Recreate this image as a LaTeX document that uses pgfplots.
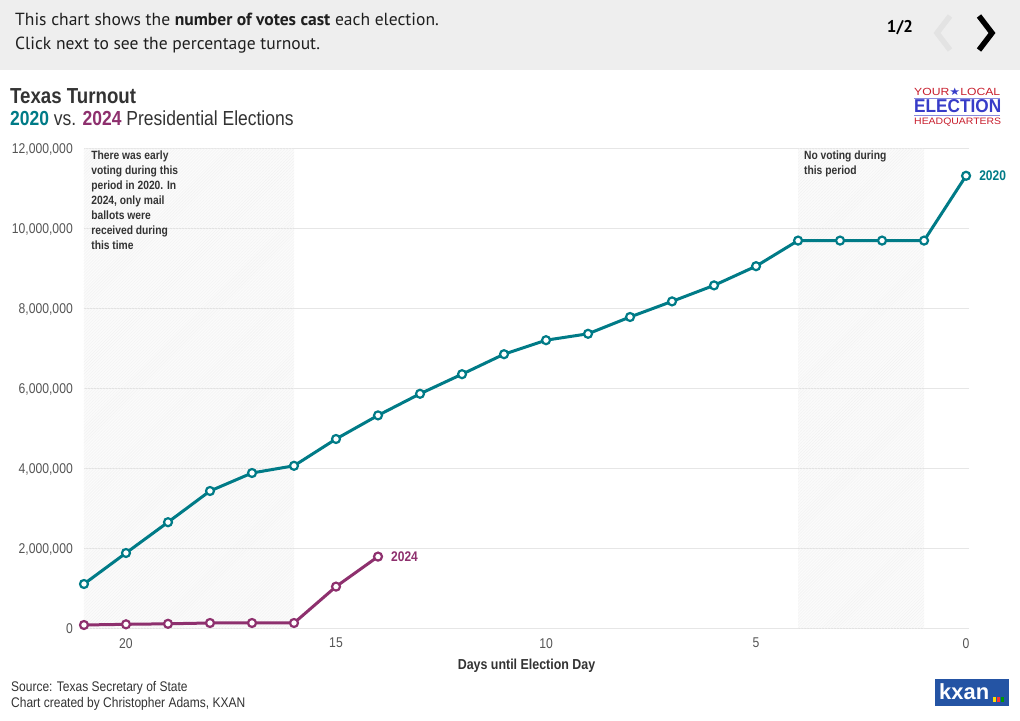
\documentclass[border=0pt]{standalone}
\usepackage{fontspec}
\setmainfont{Liberation Sans}[FakeStretch=0.86]
\newfontfamily\bannerfont{PT Sans}
\newfontfamily\dejavu{DejaVu Sans}
\newfontfamily\logofont{Liberation Sans}
\usepackage{graphicx}
\usepackage{pgfplots}
\pgfplotsset{compat=1.18}
\usetikzlibrary{patterns}
\definecolor{teal20}{RGB}{0,123,135}
\definecolor{plum24}{RGB}{142,48,110}
\definecolor{txt}{RGB}{51,51,51}
\definecolor{ticktxt}{RGB}{85,85,85}
\definecolor{gridc}{RGB}{230,230,230}
\definecolor{bannerbg}{RGB}{238,238,238}
\definecolor{logored}{RGB}{200,30,45}
\definecolor{logoblue}{RGB}{55,60,200}
\definecolor{kxanblue}{RGB}{36,84,164}
\begin{document}
\begin{tikzpicture}[x=1bp,y=1bp]
\fill[white] (0,0) rectangle (1020,721);
\fill[bannerbg] (0,651) rectangle (1020,721);
\node[anchor=base west, inner sep=0, font=\bannerfont\fontsize{17.6}{20}\selectfont, text=black!88] at (15,695) {This chart shows the \textbf{number of votes cast} each election.};
\node[anchor=base west, inner sep=0, font=\bannerfont\fontsize{17.6}{20}\selectfont, text=black!88] at (15,671) {Click next to see the percentage turnout.};
\node[anchor=base, inner sep=0, font=\bannerfont\bfseries\fontsize{17}{20}\selectfont] at (900,688) {1/2};
\draw[line width=5.5, gray!22, line join=miter] (950,705)--(937,688)--(950,671);
\draw[line width=5.5, black, line join=miter] (979,705)--(992,688)--(979,671);
% title
\node[anchor=base west, inner sep=0, font=\bfseries\fontsize{21.8}{24}\selectfont, text=txt] at (10,617) {Texas Turnout};
\node[anchor=base west, inner sep=0, font=\fontsize{20.4}{22}\selectfont, text=txt] at (10,595) {\textcolor{teal20}{\bfseries 2020} vs. \textcolor{plum24}{\bfseries 2024} Presidential Elections};
% logo
\node[anchor=base west, inner sep=0] at (914,625) {\resizebox{86bp}{7.5bp}{\logofont\textcolor{logored}{YOUR}\textcolor{logoblue}{\dejavu★}\textcolor{logored}{LOCAL}}};
\draw[logoblue!60, line width=0.8] (914,623)--(1000,623);
\node[anchor=base west, inner sep=0] at (914,608) {\resizebox{87bp}{13bp}{\logofont\bfseries\textcolor{logoblue}{ELECTION}}};
\draw[logoblue!60, line width=0.8] (914,605.5)--(1000,605.5);
\node[anchor=base west, inner sep=0] at (914,596.5) {\resizebox{87bp}{6.5bp}{\logofont\textcolor{logored}{HEADQUARTERS}}};
% kxan
\fill[kxanblue] (935,15) rectangle (1009,42);
\node[anchor=west, inner sep=0, text=white, font=\logofont\bfseries\fontsize{22}{22}\selectfont] at (939,29) {kxan};
\fill[yellow!80!orange] (993,19) rectangle (996,24);
\fill[red!80] (997,19) rectangle (1000,24);
\fill[green!60!black] (1001,19) rectangle (1004,24);
% source
\node[anchor=base west, inner sep=0, font=\fontsize{14}{16}\selectfont, text=txt] at (11,29) {Source: Texas Secretary of State};
\node[anchor=base west, inner sep=0, font=\fontsize{14}{16}\selectfont, text=txt] at (11,13) {Chart created by Christopher Adams, KXAN};
\begin{axis}[
  at={(84bp,92bp)}, anchor=south west,
  scale only axis, width=885bp, height=480bp,
  x dir=reverse, xmin=-0.07, xmax=21,
  ymin=0, ymax=12e6,
  axis line style={draw=none}, major tick length=0pt,
  ymajorgrids, grid style={gridc, line width=1bp},
  xtick={0,5,10,15,20},
  ytick={0,2000000,4000000,6000000,8000000,10000000,12000000},
  scaled y ticks=false,
  /pgf/number format/assume math mode=true,
  yticklabel={\pgfmathprintnumber[fixed,1000 sep={,}]{\tick}},
  yticklabel style={anchor=east, inner sep=0pt, xshift=-11bp, font=\fontsize{14.2}{16}\selectfont, text=ticktxt},
  xticklabel style={anchor=north, inner sep=0pt, yshift=-9bp, font=\fontsize{14.2}{16}\selectfont, text=ticktxt},
  xlabel={Days until Election Day},
  xlabel style={at={(axis description cs:0.5,0)}, anchor=north, inner sep=0pt, yshift=-30bp, font=\bfseries\fontsize{14.5}{16}\selectfont, text=txt},
  clip=false,
]
\fill[black, fill opacity=0.015] (axis cs:21,0) rectangle (axis cs:16,12e6);
\fill[pattern=north east lines, pattern color=black!5] (axis cs:21,0) rectangle (axis cs:16,12e6);
\fill[black, fill opacity=0.015] (axis cs:4,0) rectangle (axis cs:1,12e6);
\fill[pattern=north east lines, pattern color=black!5] (axis cs:4,0) rectangle (axis cs:1,12e6);
\node[anchor=north west, inner sep=0, align=left, font=\bfseries\fontsize{12}{15}\selectfont, text=txt] at (axis cs:20.83,11.95e6) {There was early\\voting during this\\period in 2020. In\\2024, only mail\\ballots were\\received during\\this time};
\node[anchor=north west, inner sep=0, align=left, font=\bfseries\fontsize{12}{15}\selectfont, text=txt] at (axis cs:3.86,11.95e6) {No voting during\\this period};
\addplot[teal20, line width=3bp, mark=*, mark size=4bp, mark options={fill=white, line width=2.2bp}] coordinates {
(21,1125000) (20,1900000) (19,2670000) (18,3450000) (17,3900000) (16,4080000)
(15,4750000) (14,5340000) (13,5880000) (12,6370000) (11,6870000) (10,7220000)
(9,7380000) (8,7800000) (7,8190000) (6,8590000) (5,9070000) (4,9710000)
(3,9710000) (2,9710000) (1,9710000) (0,11330000)};
\addplot[plum24, line width=3bp, mark=*, mark size=4bp, mark options={fill=white, line width=2.2bp}] coordinates {
(21,100000) (20,117000) (19,130000) (18,150000) (17,150000) (16,150000)
(15,1060000) (14,1810000)};
\draw[teal20!60, line width=1bp] (axis cs:0,11330000) ++(5bp,0) -- ++(6bp,0);
\node[anchor=west, inner sep=0, text=teal20, font=\bfseries\fontsize{14}{16}\selectfont] at (axis cs:0,11330000) [xshift=13bp] {2020};
\draw[plum24!60, line width=1bp] (axis cs:14,1810000) ++(5bp,0) -- ++(6bp,0);
\node[anchor=west, inner sep=0, text=plum24, font=\bfseries\fontsize{14}{16}\selectfont] at (axis cs:14,1810000) [xshift=13bp] {2024};
\end{axis}
\end{tikzpicture}
\end{document}
